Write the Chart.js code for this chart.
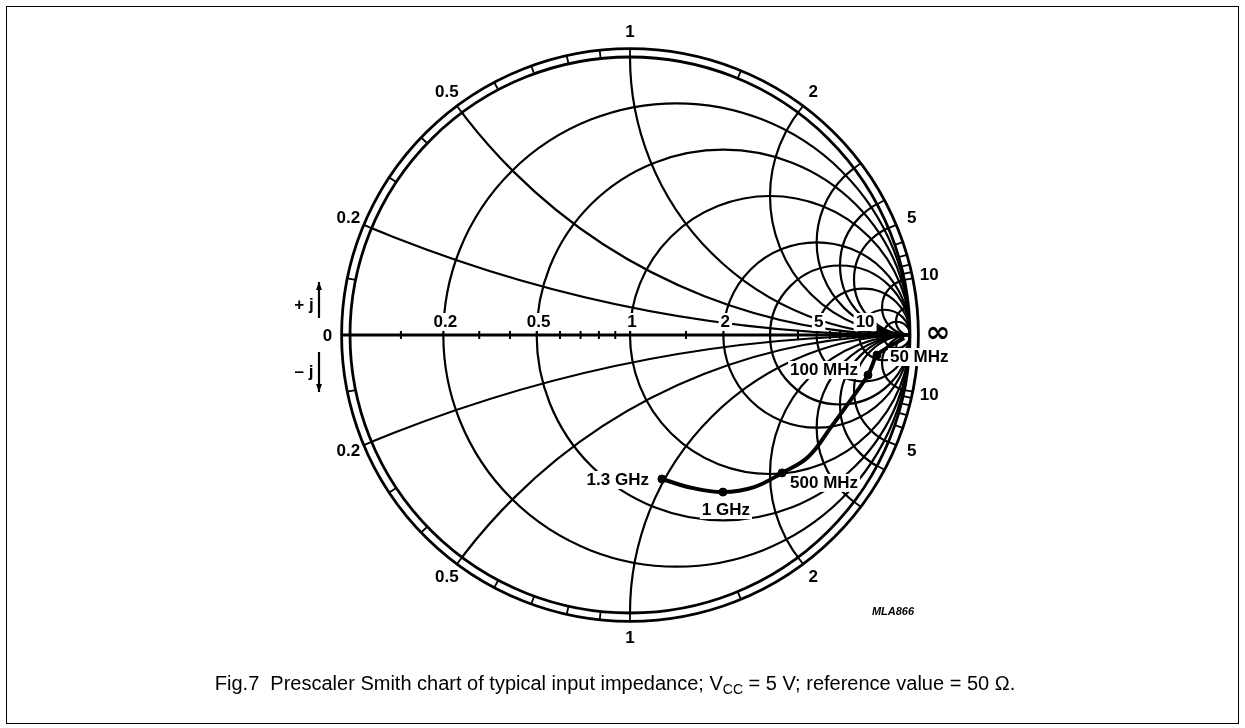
<!DOCTYPE html>
<html>
<head>
<meta charset="utf-8">
<script src="https://cdn.jsdelivr.net/npm/chart.js@4.4.0/dist/chart.umd.min.js"></script>
<style>
  html, body { margin: 0; padding: 0; background: #fff; }
  #wrap { position: relative; width: 1245px; height: 728px; overflow: hidden; }
  #frame { position: absolute; left: 6px; top: 6px; width: 1231px; height: 716px; border: 1.5px solid #000; }
  #smith { position: absolute; left: 0; top: 0; }
  #caption {
    position: absolute; left: 0; width: 1230px; top: 672px; text-align: center;
    font-family: "Liberation Sans", Arial, sans-serif; font-size: 20px; color: #000;
  }
  #caption sub { font-size: 14px; vertical-align: -4px; }
</style>
</head>
<body>
<div id="wrap">
  <div id="frame"></div>
  <canvas id="smith" width="1245" height="728"></canvas>
  <div id="caption">Fig.7&nbsp; Prescaler Smith chart of typical input impedance; V<sub>CC</sub> = 5 V; reference value = 50 &Omega;.</div>
</div>
<script>
// Smith chart grid values (normalised impedance)
const resistanceCircles = [0.2, 0.5, 1, 2, 3, 5, 10, 20];
const reactanceArcs = [0.2, 0.5, 1, 2, 3, 4, 5, 10, 20];
const axisTicks = [0.1, 0.3, 0.4, 0.6, 0.7, 0.8, 0.9, 1.5, 4, 6, 7, 8, 9];
const rimTicks = [0.1, 0.2, 0.3, 0.4, 0.5, 0.6, 0.7, 0.8, 0.9, 1, 1.5, 2, 3, 4, 5, 6, 7, 8, 9, 10];
const rimLabels = ['0.2', '0.5', '1', '2', '5', '10'];
const axisLabels = ['0.2', '0.5', '1', '2', '5', '10'];

// measured input impedance, reflection coefficient plane (re, im)
const curveRe = [0.979, 0.929, 0.882, 0.864, 0.850, 0.793, 0.721, 0.636, 0.543, 0.443, 0.332, 0.221, 0.114];
const curveIm = [-0.011, -0.040, -0.072, -0.112, -0.144, -0.227, -0.327, -0.439, -0.496, -0.547, -0.565, -0.550, -0.518];

const freqLabels = ['50 MHz', '100 MHz', '500 MHz', '1 GHz', '1.3 GHz'];
const markerRe = [0.882, 0.850, 0.543, 0.332, 0.114];
const markerIm = [-0.072, -0.144, -0.496, -0.565, -0.518];

const FONT = 'bold 17px "Liberation Sans", Arial, sans-serif';

function textBox(ctx, txt, x, y, align) {
  ctx.font = FONT;
  const w = ctx.measureText(txt).width;
  let left = x;
  if (align === 'center') left = x - w / 2;
  if (align === 'right') left = x - w;
  ctx.fillStyle = '#fff';
  ctx.fillRect(left - 2, y - 9, w + 4, 18);
  ctx.fillStyle = '#000';
  ctx.textAlign = align;
  ctx.textBaseline = 'middle';
  ctx.fillText(txt, x, y);
}

const smithGrid = {
  id: 'smithGrid',
  beforeDatasetsDraw(chart) {
    const ctx = chart.ctx;
    const xs = chart.scales.x, ys = chart.scales.y;
    const px = v => xs.getPixelForValue(v);
    const py = v => ys.getPixelForValue(v);
    const sx = px(1) - px(0), sy = py(0) - py(1);
    const cx = px(0), cy = py(0);

    ctx.save();
    ctx.strokeStyle = '#000';
    ctx.lineWidth = 2.2;

    // clip to unit circle
    ctx.save();
    ctx.beginPath();
    ctx.ellipse(cx, cy, sx, sy, 0, 0, Math.PI * 2);
    ctx.clip();
    resistanceCircles.forEach(r => {
      ctx.beginPath();
      ctx.ellipse(px(r / (1 + r)), cy, sx / (1 + r), sy / (1 + r), 0, 0, Math.PI * 2);
      ctx.stroke();
    });
    reactanceArcs.forEach(xv => {
      [1, -1].forEach(s => {
        ctx.beginPath();
        ctx.ellipse(px(1), py(s / xv), sx / xv, sy / xv, 0, 0, Math.PI * 2);
        ctx.stroke();
      });
    });
    ctx.restore();

    // outer band
    ctx.lineWidth = 2.8;
    [1, 1.03].forEach(k => {
      ctx.beginPath();
      ctx.ellipse(cx, cy, sx * k, sy * k, 0, 0, Math.PI * 2);
      ctx.stroke();
    });
    ctx.lineWidth = 1.8;
    rimTicks.forEach(v => {
      const th = Math.PI - 2 * Math.atan(v);
      [1, -1].forEach(s => {
        ctx.beginPath();
        ctx.moveTo(cx + Math.cos(th) * sx, cy - s * Math.sin(th) * sy);
        ctx.lineTo(cx + Math.cos(th) * sx * 1.03, cy - s * Math.sin(th) * sy * 1.03);
        ctx.stroke();
      });
    });

    // real axis
    ctx.lineWidth = 2.8;
    ctx.beginPath();
    ctx.moveTo(px(-1.03), cy);
    ctx.lineTo(px(1), cy);
    ctx.stroke();
    ctx.lineWidth = 2;
    axisTicks.forEach(r => {
      const g = (r - 1) / (r + 1);
      ctx.beginPath();
      ctx.moveTo(px(g), cy - 4);
      ctx.lineTo(px(g), cy + 4);
      ctx.stroke();
    });

    // +j / -j arrows
    ctx.lineWidth = 2.2;
    [[-1, 318, 282], [1, 352, 392]].forEach(([s, y0, y1]) => {
      ctx.beginPath();
      ctx.moveTo(319, y0);
      ctx.lineTo(319, y1);
      ctx.stroke();
      ctx.beginPath();
      ctx.moveTo(319, y1);
      ctx.lineTo(316, y1 + s * -8);
      ctx.lineTo(322, y1 + s * -8);
      ctx.closePath();
      ctx.fillStyle = '#000';
      ctx.fill();
    });
    ctx.restore();
  },
  afterDatasetsDraw(chart) {
    const ctx = chart.ctx;
    const xs = chart.scales.x, ys = chart.scales.y;
    const px = v => xs.getPixelForValue(v);
    const py = v => ys.getPixelForValue(v);
    ctx.save();
    ctx.font = FONT;
    ctx.fillStyle = '#000';
    ctx.textAlign = 'center';
    ctx.textBaseline = 'middle';

    // rim labels
    rimLabels.forEach(t => {
      const v = parseFloat(t);
      const th = Math.PI - 2 * Math.atan(v);
      [1, -1].forEach(s => {
        ctx.fillText(t, px(Math.cos(th) * 1.09), py(s * Math.sin(th) * 1.09));
      });
    });
    ctx.fillText('0', px(-1.08), py(0) + 1);
    ctx.font = 'bold 30px "DejaVu Sans", sans-serif';
    ctx.fillText('\u221E', px(1.1), py(0) - 1);
    ctx.font = FONT;
    ctx.fillText('+ j', 304, 305);
    ctx.fillText('\u2013 j', 304, 372);

    // axis labels
    axisLabels.forEach(t => {
      const r = parseFloat(t);
      const g = (r - 1) / (r + 1);
      const off = r === 10 ? 6 : 2;
      textBox(ctx, t, px(g) + off, py(0) - 13, 'center');
    });

    // frequency labels
    const pos = [[13, 2, 'left'], [-10, -5, 'right'], [8, 10, 'left'], [3, 18, 'center'], [-13, 1, 'right']];
    freqLabels.forEach((t, i) => {
      const [dx, dy, al] = pos[i];
      textBox(ctx, t, px(markerRe[i]) + dx, py(markerIm[i]) + dy, al);
    });

    ctx.font = 'italic bold 11px "Liberation Sans", Arial, sans-serif';
    ctx.textAlign = 'center';
    ctx.fillText('MLA866', 893, 612);
    ctx.restore();
  }
};

new Chart(document.getElementById('smith'), {
  type: 'scatter',
  data: {
    datasets: [
      {
        type: 'line',
        data: curveRe.map((v, i) => ({ x: v, y: curveIm[i] })),
        borderColor: '#000',
        borderWidth: 4,
        pointRadius: 0,
        tension: 0.4,
        fill: false
      },
      {
        data: markerRe.map((v, i) => ({ x: v, y: markerIm[i] })),
        backgroundColor: '#000',
        borderColor: '#000',
        pointRadius: 4
      }
    ]
  },
  options: {
    responsive: false,
    animation: false,
    layout: { padding: { left: 350, right: 335, top: 57, bottom: 115 } },
    scales: {
      x: { type: 'linear', min: -1, max: 1, display: false },
      y: { type: 'linear', min: -1, max: 1, display: false }
    },
    plugins: { legend: { display: false }, tooltip: { enabled: false } }
  },
  plugins: [smithGrid]
});
</script>
</body>
</html>
